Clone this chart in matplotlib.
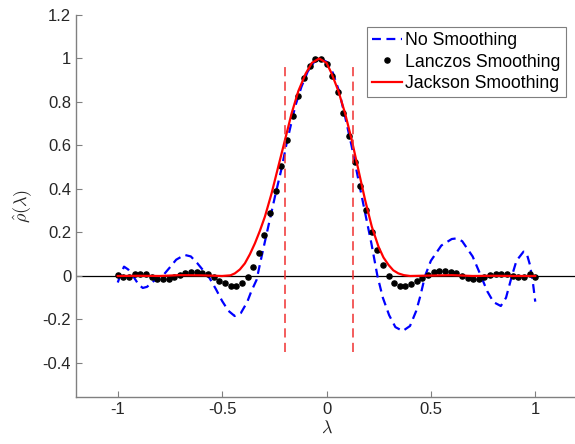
import matplotlib
matplotlib.use("Agg")
import matplotlib.pyplot as plt
import numpy as np

plt.rcParams['font.family'] = ['Liberation Sans', 'DejaVu Sans']
plt.rcParams['mathtext.fontset'] = 'cm'

# No smoothing (dashed blue)
none_x = [-1.0, -0.985, -0.97, -0.95, -0.92, -0.9, -0.88, -0.86, -0.83, -0.8, -0.785,
          -0.75, -0.72, -0.68, -0.65, -0.62, -0.59, -0.56, -0.53, -0.5, -0.47, -0.44,
          -0.41, -0.38, -0.36, -0.335, -0.311, -0.279, -0.247, -0.215, -0.191, -0.15,
          -0.12, -0.09, -0.06, -0.03, 0.0, 0.03, 0.06, 0.089, 0.121, 0.153, 0.185,
          0.215, 0.244, 0.27, 0.3, 0.33, 0.365, 0.4, 0.43, 0.45, 0.472, 0.5, 0.55,
          0.6, 0.624, 0.65, 0.7, 0.74, 0.77, 0.8, 0.835, 0.86, 0.888, 0.91, 0.944,
          0.96, 0.975, 0.99, 1.0]
none_y = [-0.03, 0.01, 0.043, 0.03, -0.01, -0.04, -0.055, -0.05, -0.025, -0.005, 0.0,
          0.04, 0.075, 0.097, 0.09, 0.06, 0.025, -0.01, -0.06, -0.115, -0.16, -0.184,
          -0.17, -0.12, -0.07, -0.018, 0.089, 0.227, 0.365, 0.495, 0.61, 0.78,
          0.87, 0.94, 0.983, 1.0, 0.985, 0.935, 0.85, 0.733, 0.595, 0.441, 0.29,
          0.15, 0.0, -0.1, -0.18, -0.235, -0.253, -0.23, -0.16, -0.09, 0.0, 0.07, 0.14,
          0.17, 0.173, 0.16, 0.09, 0.0, -0.07, -0.12, -0.138, -0.1, 0.0, 0.07, 0.112,
          0.1, 0.05, -0.04, -0.118]

# Lanczos smoothing (black dots), evenly spaced on [-1, 1]
lanczos_y = [0.005, -0.006, -0.003, 0.008, 0.009, 0.008, -0.003, -0.012, -0.014, -0.014,
             -0.006, 0.005, 0.015, 0.02, 0.02, 0.015, 0.009, -0.006, -0.021, -0.034,
             -0.044, -0.046, -0.034, -0.004, 0.043, 0.104, 0.187, 0.288, 0.393, 0.508,
             0.625, 0.735, 0.828, 0.909, 0.966, 0.996, 0.998, 0.973, 0.92, 0.845,
             0.748, 0.643, 0.526, 0.414, 0.303, 0.204, 0.12, 0.051, 0.0, -0.031,
             -0.046, -0.046, -0.037, -0.023, -0.011, 0.005, 0.017, 0.023, 0.023, 0.018,
             0.012, 0.002, -0.008, -0.012, -0.012, -0.006, 0.003, 0.011, 0.011, 0.008,
             0.0, -0.003, -0.003, 0.008, -0.003]
lanczos_x = np.linspace(-1, 1, len(lanczos_y))

# Jackson smoothing (red solid)
jackson_x = [-1.0, -0.9, -0.8, -0.7, -0.6, -0.5, -0.46, -0.439, -0.415, -0.391, -0.367,
             -0.343, -0.319, -0.295, -0.263, -0.231, -0.199, -0.167, -0.135, -0.1,
             -0.07, -0.035, 0.0, 0.025, 0.057, 0.089, 0.121, 0.153, 0.185, 0.217,
             0.249, 0.273, 0.297, 0.32, 0.344, 0.37, 0.4, 0.5, 0.6, 0.7, 0.8, 0.9, 1.0]
jackson_y = [0.0, 0.001, 0.0, 0.004, 0.003, 0.0, 0.003, 0.012, 0.03, 0.058, 0.1,
             0.15, 0.208, 0.273, 0.38, 0.503, 0.625, 0.748, 0.85, 0.93,
             0.98, 1.0, 0.98, 0.93, 0.85, 0.748, 0.625, 0.487, 0.349, 0.227,
             0.135, 0.085, 0.051, 0.026, 0.012, 0.004, 0.0, 0.002, 0.004, 0.0, 0.001, 0.0, 0.0]

# interval markers
interval = [-0.2, 0.125]
interval_span = [-0.35, 0.98]

fig = plt.figure(figsize=(5.75, 4.44), dpi=100)
ax = fig.add_axes([76/575, 47.3/444, 501/575, 381.7/444])

ax.axhline(0, color='black', lw=0.9, zorder=1)
ax.plot(none_x, none_y, color='#0000ff', lw=1.6, linestyle=(0, (4, 2.5)), label='No Smoothing', zorder=2)
ax.plot(lanczos_x, lanczos_y, 'o', color='black', markersize=3.7, label='Lanczos Smoothing', zorder=3)
ax.plot(jackson_x, jackson_y, color='#ff0000', lw=1.6, label='Jackson Smoothing', zorder=4)
for xv in interval:
    ax.plot([xv, xv], interval_span, color='#f03030', lw=1.1, linestyle=(0, (6, 3.5)), zorder=5)

ax.set_xlim(-1.2, 1.2)
ax.set_ylim(-0.555, 1.2)
ax.set_xticks([-1, -0.5, 0, 0.5, 1])
ax.set_xticklabels(['-1', '-0.5', '0', '0.5', '1'])
ax.set_yticks([-0.4, -0.2, 0, 0.2, 0.4, 0.6, 0.8, 1, 1.2])
ax.set_yticklabels(['-0.4', '-0.2', '0', '0.2', '0.4', '0.6', '0.8', '1', '1.2'])

for s in ['top', 'right']:
    ax.spines[s].set_visible(False)
for s in ['left', 'bottom']:
    ax.spines[s].set_color('#808080')
    ax.spines[s].set_linewidth(1.0)
ax.tick_params(direction='in', length=4, width=0.8, color='#808080',
               labelcolor='#262626', labelsize=12)

ax.set_xlabel(r'$\lambda$', fontsize=13, color='#262626', labelpad=2)
ax.set_ylabel(r'$\hat{\rho}(\lambda)$', fontsize=13, color='#262626', labelpad=6)

leg = ax.legend(loc='upper right', bbox_to_anchor=(0.978, 0.969), borderaxespad=0,
                fontsize=12.7, handlelength=1.7, handletextpad=0.2, labelspacing=0.25,
                borderpad=0.3, fancybox=False, framealpha=1, edgecolor='#7f7f7f')
leg.get_frame().set_linewidth(0.8)

plt.savefig('out.png', dpi=100)
